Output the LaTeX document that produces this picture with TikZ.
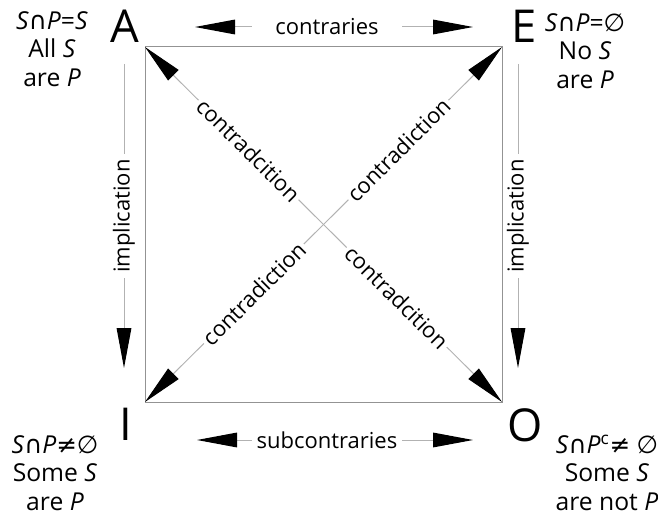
\documentclass[tikz,border=0pt]{standalone}
\usepackage{fontspec}
\setmainfont{Open Sans}
\newfontfamily\symfont{DejaVu Sans}
\usetikzlibrary{arrows.meta}
\newcommand{\isect}{{\symfont ∩}}
\newcommand{\nullset}{{\symfont ∅}}
\newcommand{\noteq}{{\symfont ≠}}
\tikzset{
  bighead/.tip={Triangle[length=30pt,width=11pt,color=black]},
  sqline/.style={draw=gray!85,line width=0.75pt},
  relline/.style={draw=gray!60,line width=0.75pt,bighead-bighead},
  downline/.style={draw=gray!60,line width=0.75pt,-bighead},
  vertex/.style={inner sep=0pt,font=\fontsize{34}{34}\selectfont},
  stmt/.style={inner sep=0pt,align=center,font=\fontsize{18.5}{21.5}\selectfont},
  lbl/.style={fill=white,inner sep=2pt,font=\fontsize{16.5}{19}\selectfont},
  hlbl/.style={lbl,minimum width=113pt},
  vlbl/.style={lbl,rotate=90,inner xsep=4pt}
}

\begin{document}
\begin{tikzpicture}[x=0.75pt,y=-0.75pt]
    \useasboundingbox (0,0) rectangle (658,517);

    % corners of the square
    \coordinate (cA) at (145,47);
    \coordinate (cE) at (502,47);
    \coordinate (cI) at (145,402);
    \coordinate (cO) at (502,402);
    \draw[sqline] (cA) -- (cE) -- (cO) -- (cI) -- cycle;

    % the four letters
    \node[vertex] (A) at (125,26) {A};
    \node[vertex] (E) at (524,26) {E};
    \node[vertex] (I) at (126,424) {I};
    \node[vertex] (O) at (525,425) {O};

    % the four statements
    \node[stmt] (sA) at (52,49) {\textit{S}\isect\textit{P}=\textit{S}\\All \textit{S}\\are \textit{P}};
    \node[stmt] (sE) at (585,51) {\textit{S}\isect\textit{P}=\nullset\\No \textit{S}\\are \textit{P}};
    \node[stmt] (sI) at (55,473) {\textit{S}\isect\textit{P}\noteq\nullset\\Some \textit{S}\\are \textit{P}};
    \node[stmt] (sO) at (607,473) {\textit{S}\isect\textit{P}\textsuperscript{c}\noteq{} \nullset\\Some \textit{S}\\are not \textit{P}};

    % diagonals
    \draw[relline] (cA) -- node[lbl,sloped,pos=0.29] {contradcition}
      node[lbl,sloped,pos=0.705] {contradcition} (cO);
    \draw[relline] (cI) -- node[lbl,sloped,pos=0.305] {contradiction}
      node[lbl,sloped,pos=0.71] {contradiction} (cE);

    % contraries and subcontraries
    \coordinate (tl) at (195,27);
    \coordinate (tr) at (473,27);
    \draw[relline] (tl) -- node[hlbl,pos=0.475] {contraries} (tr);
    \coordinate (bl) at (197,440);
    \coordinate (br) at (473,440);
    \draw[relline] (bl) -- node[hlbl,pos=0.471] {subcontraries} (br);

    % implications
    \foreach \name/\x in {l/124,r/518}{
      \coordinate (\name t) at (\x,64);
      \coordinate (\name b) at (\x,368);
      \draw[downline] (\name t) -- node[vlbl] {implication} (\name b);
    }
\end{tikzpicture}
\end{document}
